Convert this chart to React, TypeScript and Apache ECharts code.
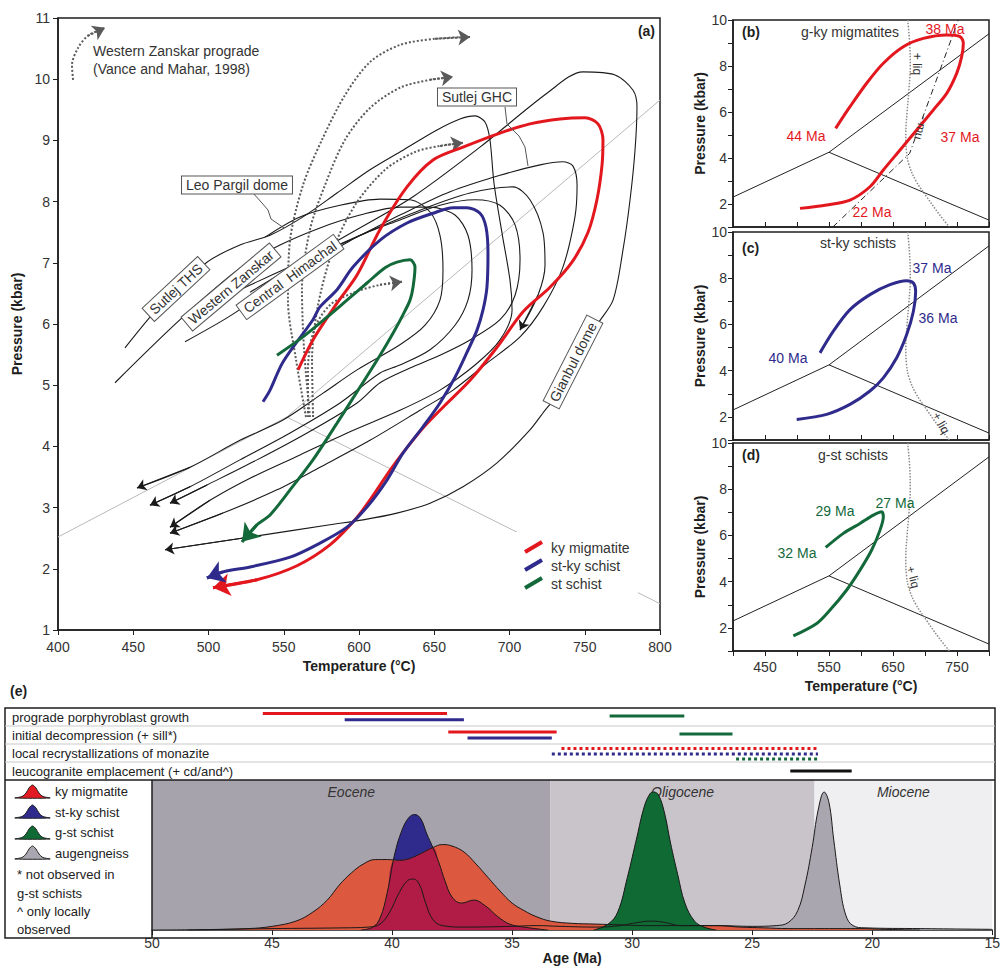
import React, { useEffect, useRef } from "react";
import * as echarts from "echarts";

const FONT = "'Liberation Sans', Arial, Helvetica, sans-serif";
const RED = "#e3181f";
const BLUE = "#2f2b8c";
const GREEN = "#13693a";
const INK = "#1e1e1e";

// ---------- Panel (a): P–T paths, [temperature °C, pressure kbar] ----------
const kyMigmatitePath = [[559.5,5.25],[569.4,5.74],[585.4,6.34],[598.7,6.8],[613.9,7.54],[631.9,8.24],[649.2,8.68],[669.1,8.89],[693.7,9.12],[713.6,9.27],[733.6,9.35],[750.2,9.37],[758.8,9.27],[762.1,9.01],[761.5,8.6],[758.1,8.03],[752.2,7.5],[741.5,7.01],[726.9,6.6],[709,6.2],[691.7,5.62],[673.8,5.08],[655.8,4.64],[642.5,4.3],[630.6,3.94],[620.6,3.61],[608.6,3.17],[597.3,2.8],[580.7,2.39],[558.8,2.05],[532.2,1.82],[503,1.69]];
const stKySchistPath = [[536.2,4.73],[540.9,4.92],[549.5,5.38],[569.4,6.07],[574.1,6.28],[585.4,6.56],[596,6.93],[614,7.37],[631.9,7.65],[649.2,7.81],[662.5,7.9],[671.8,7.9],[680.4,7.81],[684.4,7.58],[685.7,7.16],[685,6.6],[682.4,6.23],[678.4,5.9],[671.8,5.54],[663.8,5.13],[653.8,4.71],[642.5,4.32],[629.2,3.89],[618.6,3.45],[605.3,3.01],[592,2.68],[574.1,2.42],[554.2,2.19],[527.6,2.03],[509.6,1.95],[499,1.85]];
const stSchistPath = [[545.5,5.49],[562.8,5.79],[578.7,6.11],[592,6.39],[605.3,6.67],[617.3,6.92],[625.2,7.01],[633.9,7.05],[637.2,6.93],[635.9,6.6],[633.9,6.39],[629.2,6.15],[622.6,5.85],[614,5.49],[600.7,4.97],[585.4,4.38],[569.4,3.78],[554.2,3.29],[540.9,2.88],[532.2,2.72],[522.3,2.44]];

const sutlejThsPath = [[444.5,5.61],[471.1,6.39],[499,7.01],[520.9,7.29],[540.9,7.45],[562.8,7.75],[585.4,8.14],[607.3,8.52],[629.2,8.84],[651.8,9.17],[667.1,9.35],[677.1,9.4],[683.7,9.3],[687,9.01],[689.7,8.3],[695,7.49],[700.3,6.72],[701.7,6.23],[693.7,5.74],[677.1,5.33],[653.8,4.92],[627.2,4.59],[594,4.24],[560.8,3.86],[527.6,3.48],[501,3.12],[474.4,2.68]];
const westernZanskarPath = [[437.9,5.04],[481.1,6.07],[520.9,6.91],[547.5,7.29],[574.1,7.57],[600.7,7.78],[627.2,7.91],[647.2,7.91],[663.8,7.78],[672.4,7.45],[675.1,6.88],[672.4,6.39],[663.8,5.98],[647.2,5.58],[627.2,5.33],[614,5.2],[587.4,4.71],[554.2,4.22],[520.9,3.78],[487.7,3.34],[461.1,3.04]];
const centralHimachalPath = [[484.4,5.71],[512.3,6.1],[540.9,6.56],[567.4,6.96],[598.7,7.42],[627.2,7.7],[653.8,7.94],[677.1,8.03],[693.7,7.94],[703.7,7.62],[707,7.05],[703.7,6.47],[693.7,6.07],[673.8,5.74],[653.8,5.49],[633.9,5.28],[614,5.04],[598.7,4.71],[565.5,4.22],[532.2,3.78],[499,3.37],[474.4,3.07]];
const leoPargilPath = [[537.6,7.42],[560.8,7.75],[587.4,7.94],[614,8.04],[633.9,8.03],[647.2,7.83],[653.8,7.45],[655.8,6.88],[653.8,6.39],[643.9,5.98],[627.2,5.66],[598.7,5.25],[576.1,4.87],[549.5,4.43],[520.9,4.1],[487.7,3.66],[452.5,3.32]];
const sutlejGhcPath = [[560.8,7.05],[594,7.37],[627.2,7.78],[660.5,8.16],[693.7,8.43],[720.3,8.6],[735.5,8.65],[742.2,8.58],[744.9,8.27],[743.5,7.75],[735.5,6.93],[722.3,6.28],[707,5.79],[685,5.36],[662.5,4.92],[640.5,4.59],[607.3,4.1],[574.1,3.66],[545.5,3.29],[509.6,2.91],[474.4,2.58]];
const shortLoopPath = [[520.9,6.56],[560.8,7.01],[600.7,7.45],[640.5,7.86],[673.8,8.14],[702.3,8.24],[713.6,8.03],[722.3,7.49],[723.6,6.96],[718.9,6.47],[707,5.9]];
const gianbulPath = [[527.6,6.52],[560.8,7.01],[592,7.45],[635.9,8.08],[680.4,8.89],[724.9,9.77],[748.8,10.12],[770.1,10.07],[782.1,9.82],[784.7,9.55],[783.4,8.84],[780.1,8.03],[775.4,7.21],[768.8,6.39],[758.1,5.98],[740.2,5.08],[723.6,4.59],[713.6,4.27],[691.7,3.73],[669.1,3.34],[647.2,3.07],[625.2,2.91],[602.7,2.8],[580.7,2.72],[527.6,2.52],[471.1,2.31]];

const progradePathA = [[564.8,4.48],[558.2,5.41],[552.8,6.39],[554.2,7.37],[562.8,8.27],[575.4,9.01],[590.7,9.74],[607.3,10.28],[627.2,10.56],[650.5,10.66],[673.8,10.69]];
const progradePathB = [[567.4,4.48],[563.5,5.58],[562.1,6.56],[567.4,7.54],[577.4,8.27],[590.7,9.01],[607.3,9.53],[627.2,9.86],[647.2,9.99],[662.5,10.04]];
const progradePathC = [[569.5,4.48],[568.8,5.41],[572.8,6.31],[582.7,7.21],[597.3,7.94],[617.3,8.52],[637.2,8.81],[653.8,8.91],[669.1,8.96]];
const progradePathD = [[566.1,4.48],[566.1,5.25],[570.1,5.9],[580.7,6.31],[597.3,6.52],[614,6.64],[628.6,6.69]];
const vanceMaharPath = [[410,9.99],[409.3,10.23],[413.3,10.51],[419.9,10.71],[431.2,10.84]];

const kySilLineA = [[400,2.52],[552,4.48],[800,9.66]];
const andSilLineA = [[552,4.48],[800,1.43]];

// ---------- Panels (b)-(d) ----------
const kySilLine = [[400,2.3],[550,4.25],[800,9.4]];
const andSilLine = [[550,4.25],[800,1.3]];
const wetSolidus = [[673,10],[676,9],[677,8],[675,7],[672,6],[670,5],[671,4.3],[675,3.7],[686,3],[703,2.3],[721,1.6],[738,1]];
const muscoviteOut = [[556,1],[676,4.2],[752,10]];
const gKyPathB = [[560.4,5.29],[582.8,6.23],[608.8,7.25],[634.9,8.12],[666.1,8.84],[697.4,9.2],[733.9,9.35],[754.7,9.28],[759.9,8.99],[757.3,8.41],[749.5,7.68],[733.9,6.81],[713,6.09],[687,5.22],[661,4.35],[634.9,3.48],[614,2.75],[582.8,2.17],[546.4,1.96],[504.7,1.81]];
const stKyPathC = [[535.9,4.77],[556.8,5.71],[582.8,6.64],[614,7.29],[645.3,7.72],[671.4,7.89],[681.8,7.79],[685.4,7.43],[681.8,6.56],[671.4,5.56],[655.8,4.56],[634.9,3.69],[614,3.12],[582.8,2.54],[546.4,2.11],[499.5,1.89]];
const gStPathD = [[544.8,5.48],[572.4,6.09],[598.4,6.52],[619.3,6.88],[632.3,7.03],[634.9,6.81],[629.7,6.23],[616.7,5.37],[598.4,4.5],[577.6,3.64],[551.6,2.77],[530.8,2.19],[494.2,1.65]];

// ---------- Panel (e) ----------
const timelineRows = ["prograde porphyroblast growth","initial decompression (+ sill*)","local recrystallizations of monazite","leucogranite emplacement (+ cd/and^)"];
const kyRanges = [[45.4,37.75],[37.7,33.2],[33.0,22.35]];
const stKyRanges = [[42.0,37.05],[36.9,33.4],[33.4,22.35]];
const gStRanges = [[31.0,27.9],[28.1,25.9],[25.75,22.35]];
const leucograniteRange = [23.5,20.95];

const epochs = [
  { name: "Eocene", from: 50, to: 33.4, color: "#a7a3ac" },
  { name: "Oligocene", from: 33.4, to: 22.4, color: "#c9c4ca" },
  { name: "Miocene", from: 22.4, to: 15, color: "#efeef0" },
];

const kyDensity = [[48.5,0],[46,0.01],[45,0.025],[44,0.06],[43.3,0.12],[42.7,0.2],[42.2,0.3],[41.7,0.38],[41.2,0.44],[40.7,0.47],[40.2,0.47],[39.7,0.465],[39.3,0.475],[38.8,0.51],[38.3,0.55],[37.9,0.57],[37.5,0.56],[37.0,0.52],[36.5,0.44],[36.0,0.35],[35.5,0.26],[35.0,0.18],[34.5,0.13],[34.0,0.09],[33.4,0.06],[32.5,0.045],[31.5,0.04],[30.5,0.035],[29.5,0.03],[28.5,0.03],[27.5,0.03],[26.5,0.03],[25.5,0.02],[24.5,0.015],[23.5,0.01],[22,0.01],[20.5,0.01],[19.5,0.005],[18,0]];
const stKyDensity = [[41.3,0],[40.8,0.02],[40.5,0.08],[40.2,0.25],[39.9,0.5],[39.6,0.66],[39.3,0.75],[39.05,0.77],[38.8,0.74],[38.55,0.64],[38.3,0.55],[38.05,0.45],[37.8,0.33],[37.5,0.22],[37.1,0.18],[36.6,0.2],[36.1,0.16],[35.6,0.09],[35.1,0.04],[34.5,0.02],[33.5,0]];
const overlapDensity = [[41.3,0],[40.8,0.02],[40.5,0.08],[40.2,0.25],[40.0,0.45],[39.7,0.465],[39.3,0.475],[38.8,0.51],[38.3,0.55],[38.05,0.45],[37.8,0.33],[37.5,0.22],[37.1,0.18],[36.6,0.2],[36.1,0.16],[35.6,0.09],[35.1,0.04],[34.5,0.02],[33.5,0]];
const gStDensity = [[31.6,0],[31.0,0.04],[30.6,0.12],[30.2,0.35],[29.8,0.62],[29.5,0.82],[29.25,0.91],[29.1,0.92],[28.9,0.9],[28.65,0.78],[28.4,0.58],[28.1,0.37],[27.8,0.18],[27.4,0.06],[27.0,0.02],[26.5,0]];
const augengneissDensity = [[50,0],[48,0.003],[45,0.01],[42,0.015],[41,0.02],[40.5,0.04],[40.1,0.12],[39.7,0.25],[39.35,0.33],[39.1,0.34],[38.85,0.3],[38.6,0.18],[38.3,0.07],[37.9,0.03],[37,0.02],[35,0.025],[34,0.03],[33,0.025],[31.5,0.02],[30.5,0.03],[29.8,0.05],[29.2,0.06],[28.6,0.05],[28,0.03],[26.5,0.03],[25,0.025],[24,0.03],[23.5,0.05],[23.1,0.13],[22.8,0.3],[22.5,0.55],[22.25,0.8],[22.0,0.92],[21.8,0.85],[21.6,0.6],[21.35,0.3],[21.1,0.1],[20.8,0.03],[20.3,0.015],[18,0.01],[15,0.005]];

function buildOption() {
  const series: any[] = [];
  const addPath = (data: number[][], axis: number, color: string, width: number, o: any = {}) => {
    series.push({
      type: "line", xAxisIndex: axis, yAxisIndex: axis, data, smooth: o.smooth ?? 0.3,
      symbol: "none", showSymbol: false, silent: true, z: o.z ?? 3,
      lineStyle: { color, width, type: o.type || "solid" },
    });
    if (o.arrow) {
      series.push({
        type: "lines", coordinateSystem: "cartesian2d", xAxisIndex: axis, yAxisIndex: axis,
        symbol: ["none", "arrow"], symbolSize: o.arrow, silent: true, z: o.z ?? 3,
        lineStyle: { color, width, type: o.type || "solid", opacity: 1 },
        data: [{ coords: [data[data.length - 2], data[data.length - 1]] }],
      });
    }
  };

  // panel a
  addPath(kySilLineA, 0, "#b9b9b9", 1, { smooth: false, z: 1 });
  addPath(andSilLineA, 0, "#b9b9b9", 1, { smooth: false, z: 1 });
  const blackPaths = [sutlejThsPath, westernZanskarPath, centralHimachalPath, leoPargilPath, sutlejGhcPath, shortLoopPath, gianbulPath];
  blackPaths.forEach((p) => addPath(p, 0, "#1a1a1a", 1.1, { arrow: 9 }));
  [progradePathA, progradePathB, progradePathC, progradePathD, vanceMaharPath].forEach((p) =>
    addPath(p, 0, "#5a5a5a", 2, { type: "dotted", arrow: 12 })
  );
  addPath(kyMigmatitePath, 0, RED, 3, { arrow: 17, z: 5 });
  addPath(stKySchistPath, 0, BLUE, 3, { arrow: 17, z: 5 });
  addPath(stSchistPath, 0, GREEN, 3, { arrow: 17, z: 5 });

  // panels b-d
  [1, 2, 3].forEach((g) => {
    addPath(kySilLine, g, "#222", 1, { smooth: false });
    addPath(andSilLine, g, "#222", 1, { smooth: false });
    addPath(wetSolidus, g, "#8a8a8a", 1.5, { type: "dotted", smooth: 0.4 });
  });
  addPath(muscoviteOut, 1, "#222", 1, { smooth: false, type: [6, 3, 1, 3] });
  addPath(gKyPathB, 1, RED, 3, { z: 5 });
  addPath(stKyPathC, 2, BLUE, 3, { z: 5 });
  addPath(gStPathD, 3, GREEN, 3, { z: 5 });

  // panel e timeline
  const rowOffsets = {
    ky: [0.3, 0.33, 0.25],
    stky: [0.65, 0.67, 0.55],
    gst: [0.45, 0.45, 0.83],
  };
  const seg = (r: number[], y: number, color: string, dotted: boolean) =>
    series.push({
      type: "line", xAxisIndex: 4, yAxisIndex: 4, symbol: "none", silent: true,
      data: [[r[0], y], [r[1], y]],
      lineStyle: { color, width: 3, type: dotted ? [3, 3] : "solid", cap: "butt" },
    });
  kyRanges.forEach((r, i) => seg(r, i + rowOffsets.ky[i], RED, i === 2));
  stKyRanges.forEach((r, i) => seg(r, i + rowOffsets.stky[i], BLUE, i === 2));
  gStRanges.forEach((r, i) => seg(r, i + rowOffsets.gst[i], GREEN, i === 2));
  seg(leucograniteRange, 3.5, "#111", false);

  // panel e density
  const dens = (data: number[][], fill: string | null, line: boolean, extra: any = {}) =>
    series.push({
      type: "line", xAxisIndex: 5, yAxisIndex: 5, data, smooth: 0.4, symbol: "none", silent: true,
      lineStyle: line ? { color: "#1a1a1a", width: 1 } : { width: 0, opacity: 0 },
      areaStyle: fill ? { color: fill, opacity: 1 } : undefined,
      ...extra,
    });
  dens(augengneissDensity, "#aaa6af", false, {
    markArea: {
      silent: true,
      label: { show: true, position: "insideTop", distance: 5, fontStyle: "italic", fontSize: 14, color: "#333", fontFamily: FONT },
      data: epochs.map((e) => [{ name: e.name, xAxis: e.from, itemStyle: { color: e.color } }, { xAxis: e.to }]),
    },
  });
  dens(stKyDensity, BLUE, true);
  dens(kyDensity, "#dc583e", false);
  dens(overlapDensity, "#b01c45", false);
  dens(gStDensity, "#0f6a34", true);
  dens(kyDensity, null, true);
  dens(augengneissDensity, null, true);

  const axisLine = { show: true, lineStyle: { color: INK, width: 1.5 } };
  const lbl = { fontSize: 14, color: "#333", fontFamily: FONT };
  const nameStyle = { fontWeight: "bold", fontSize: 14, color: INK, fontFamily: FONT };

  const xAxis: any[] = [
    { gridIndex: 0, type: "value", min: 400, max: 800, interval: 50, axisLine, axisTick: { length: 5, lineStyle: { color: INK } }, axisLabel: { ...lbl, margin: 10 }, splitLine: { show: false }, name: "Temperature (°C)", nameLocation: "middle", nameGap: 28, nameTextStyle: nameStyle },
  ];
  const yAxis: any[] = [
    { gridIndex: 0, type: "value", min: 1, max: 11, interval: 1, axisLine, axisTick: { length: 5, lineStyle: { color: INK } }, axisLabel: { ...lbl, margin: 8 }, splitLine: { show: false }, name: "Pressure (kbar)", nameLocation: "middle", nameGap: 29, nameTextStyle: nameStyle },
  ];
  [1, 2, 3].forEach((g) => {
    xAxis.push({
      gridIndex: g, type: "value", min: 400, max: 800, interval: 50, axisLine,
      axisTick: { length: 5, inside: g < 3, lineStyle: { color: INK } },
      axisLabel: { ...lbl, show: g === 3, margin: 9, formatter: (v: number) => (v % 100 === 50 ? String(v) : "") },
      splitLine: { show: false },
      name: g === 3 ? "Temperature (°C)" : "", nameLocation: "middle", nameGap: 28, nameTextStyle: nameStyle,
    });
    yAxis.push({
      gridIndex: g, type: "value", min: 1, max: 10, interval: 1, axisLine,
      axisTick: { length: 5, lineStyle: { color: INK } },
      axisLabel: { ...lbl, margin: 6, formatter: (v: number) => (v % 2 === 0 ? String(v) : "") },
      splitLine: { show: false },
      name: "Pressure (kbar)", nameLocation: "middle", nameGap: 26, nameTextStyle: nameStyle,
    });
  });
  xAxis.push({ gridIndex: 4, type: "value", min: 15, max: 50, inverse: true, show: false });
  yAxis.push({ gridIndex: 4, type: "value", min: 0, max: 4, inverse: true, show: false });
  xAxis.push({
    gridIndex: 5, type: "value", min: 15, max: 50, interval: 5, inverse: true, axisLine,
    axisTick: { length: 5, lineStyle: { color: INK } }, axisLabel: { ...lbl, margin: 6 }, splitLine: { show: false },
    name: "Age (Ma)", nameLocation: "middle", nameGap: 17, nameTextStyle: nameStyle,
  });
  yAxis.push({ gridIndex: 5, type: "value", min: 0, max: 1, show: false });

  const grids = [
    { left: 58, top: 18, width: 602, height: 612, show: true, borderColor: INK, borderWidth: 1.5 },
    { left: 733, top: 20, width: 256, height: 207, show: true, borderColor: INK, borderWidth: 1.5 },
    { left: 733, top: 232, width: 256, height: 208, show: true, borderColor: INK, borderWidth: 1.5 },
    { left: 733, top: 443, width: 256, height: 208, show: true, borderColor: INK, borderWidth: 1.5 },
    { left: 152, top: 708, width: 843, height: 72 },
    { left: 152, top: 780, width: 843, height: 158 },
  ];

  const txt = (text: string, x: number, y: number, o: any = {}) => ({
    type: "text", x, y, z: 100, silent: true,
    rotation: o.rot ? (o.rot * Math.PI) / 180 : 0,
    style: {
      text, fill: o.color || "#333", fontSize: o.size || 14, fontFamily: FONT,
      fontWeight: o.bold ? "bold" : "normal", fontStyle: o.italic ? "italic" : "normal",
      align: o.align || "center", verticalAlign: "middle",
      ...(o.box ? { backgroundColor: "#fff", borderColor: "#555", borderWidth: 1, padding: [2, 4, 1, 4] } : {}),
    },
  });
  const ln = (x1: number, y1: number, x2: number, y2: number, color: string, w: number) => ({
    type: "line", z: 100, silent: true, shape: { x1, y1, x2, y2 }, style: { stroke: color, lineWidth: w },
  });
  const bell = (x: number, y: number, fill: string) => ({
    type: "polygon", x, y, z: 100, silent: true,
    shape: { points: [[0, 13], [7, 11.5], [11, 8], [14, 3], [17.5, 0], [21, 3], [24, 8], [28, 11.5], [35, 13]], smooth: 0.3 },
    style: { fill, stroke: "#222", lineWidth: 1 },
  });

  const graphic: any[] = [
    // panel a annotations
    txt("Western Zanskar prograde", 93, 51, { align: "left" }),
    txt("(Vance and Mahar, 1998)", 93, 69, { align: "left" }),
    txt("(a)", 655, 31, { align: "right", bold: true, color: INK }),
    { type: "polyline", z: 99, silent: true, shape: { points: [[505, 107], [507, 124], [519, 136], [525, 147], [528, 166]] }, style: { stroke: "#555", lineWidth: 1, fill: null } },
    { type: "polyline", z: 99, silent: true, shape: { points: [[253, 193], [262, 203], [268, 210], [271, 219], [284, 228]] }, style: { stroke: "#555", lineWidth: 1, fill: null } },
    txt("Sutlej GHC", 477, 97, { box: true }),
    txt("Leo Pargil dome", 237, 185, { box: true }),
    txt("Sutlej THS", 176, 289, { box: true, rot: 43 }),
    txt("Western Zanskar", 231, 287, { box: true, rot: 40 }),
    txt("Central  Himachal", 290, 277, { box: true, rot: 36 }),
    txt("Gianbul dome", 573, 362, { box: true, rot: 63 }),
    { type: "rect", z: 90, silent: true, shape: { x: 516, y: 532, width: 122, height: 62 }, style: { fill: "#fff" } },
    ln(525, 552, 542, 542, RED, 4),
    ln(525, 570, 542, 560, BLUE, 4),
    ln(525, 588, 542, 578, GREEN, 4),
    txt("ky migmatite", 551, 548, { align: "left" }),
    txt("st-ky schist", 551, 566, { align: "left" }),
    txt("st schist", 551, 584, { align: "left" }),
    // panel b
    txt("(b)", 742, 32, { align: "left", bold: true, color: INK }),
    txt("g-ky migmatites", 850, 32),
    txt("38 Ma", 945, 29, { color: RED }),
    txt("44 Ma", 806, 136, { color: RED }),
    txt("37 Ma", 960, 137, { color: RED }),
    txt("22 Ma", 872, 212, { color: RED }),
    txt("+ liq", 917, 64, { rot: -90, size: 12 }),
    txt("- mu", 921, 128, { rot: -105, size: 12 }),
    // panel c
    txt("(c)", 742, 248, { align: "left", bold: true, color: INK }),
    txt("st-ky schists", 858, 243),
    txt("37 Ma", 932, 268, { color: BLUE }),
    txt("36 Ma", 938, 318, { color: BLUE }),
    txt("40 Ma", 788, 358, { color: BLUE }),
    txt("+ liq", 941, 423, { rot: -60, size: 12 }),
    // panel d
    txt("(d)", 742, 455, { align: "left", bold: true, color: INK }),
    txt("g-st schists", 853, 455),
    txt("29 Ma", 835, 511, { color: GREEN }),
    txt("27 Ma", 895, 503, { color: GREEN }),
    txt("32 Ma", 797, 553, { color: GREEN }),
    txt("+ liq", 913, 577, { rot: -75, size: 12 }),
    // panel e frame
    txt("(e)", 10, 691, { align: "left", bold: true, color: INK }),
    { type: "rect", z: 100, silent: true, shape: { x: 5, y: 708, width: 990, height: 230 }, style: { fill: null, stroke: INK, lineWidth: 1.5 } },
    ln(5, 726, 995, 726, "#c9c9c9", 1),
    ln(5, 744, 995, 744, "#c9c9c9", 1),
    ln(5, 762, 995, 762, "#c9c9c9", 1),
    ln(5, 780, 995, 780, INK, 1.5),
    ln(152, 780, 152, 938, INK, 1.5),
    ...timelineRows.map((t, i) => txt(t, 12, 717 + i * 18, { align: "left", size: 13, color: "#222" })),
    bell(15, 785, "#e21b22"),
    bell(15, 805, BLUE),
    bell(15, 826, "#0f6a34"),
    bell(15, 846, "#aaa6af"),
    txt("ky migmatite", 55, 791, { align: "left", size: 13, color: "#222" }),
    txt("st-ky schist", 55, 812, { align: "left", size: 13, color: "#222" }),
    txt("g-st schist", 55, 832, { align: "left", size: 13, color: "#222" }),
    txt("augengneiss", 55, 853, { align: "left", size: 13, color: "#222" }),
    txt("* not observed in", 17, 874, { align: "left", size: 13, color: "#222" }),
    txt("g-st schists", 17, 893, { align: "left", size: 13, color: "#222" }),
    txt("^ only locally", 17, 911, { align: "left", size: 13, color: "#222" }),
    txt("observed", 17, 929, { align: "left", size: 13, color: "#222" }),
  ];

  return {
    animation: false,
    backgroundColor: "#fff",
    textStyle: { fontFamily: FONT },
    grid: grids,
    xAxis,
    yAxis,
    series,
    graphic: { elements: graphic },
  };
}

export default function App() {
  const ref = useRef<HTMLDivElement>(null);
  useEffect(() => {
    const chart = echarts.init(ref.current!, null, { renderer: "svg" });
    chart.setOption(buildOption() as any);
    return () => chart.dispose();
  }, []);
  return <div ref={ref} style={{ position: "absolute", left: 0, top: 0, width: 1003, height: 966, background: "#fff" }} />;
}
